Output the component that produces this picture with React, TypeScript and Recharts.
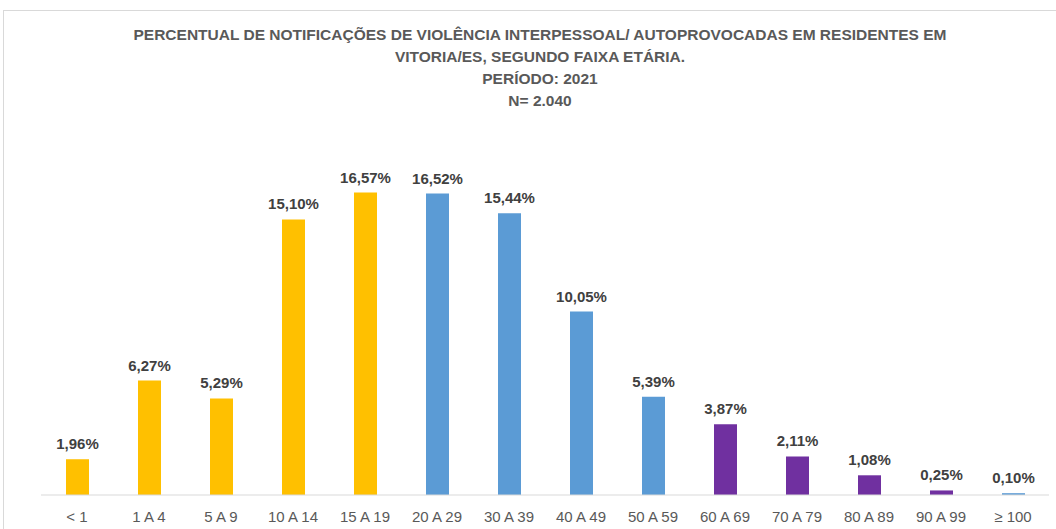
import React from "react";
import { BarChart, Bar, XAxis, YAxis, Cell, LabelList } from "recharts";

const categories = ["< 1", "1 A 4", "5 A 9", "10 A 14", "15 A 19", "20 A 29", "30 A 39", "40 A 49", "50 A 59", "60 A 69", "70 A 79", "80 A 89", "90 A 99", "≥ 100"];
const values = [1.96, 6.27, 5.29, 15.1, 16.57, 16.52, 15.44, 10.05, 5.39, 3.87, 2.11, 1.08, 0.25, 0.1];
const groups = ["young", "young", "young", "young", "young", "adult", "adult", "adult", "adult", "elder", "elder", "elder", "elder", "adult"];
const titleLines = [
  "PERCENTUAL DE NOTIFICAÇÕES DE VIOLÊNCIA INTERPESSOAL/ AUTOPROVOCADAS EM RESIDENTES EM",
  "VITORIA/ES, SEGUNDO FAIXA ETÁRIA.",
  "PERÍODO: 2021",
  "N= 2.040",
];

const groupColors: Record<string, string> = { young: "#FFC000", adult: "#5B9BD5", elder: "#7030A0" };

const data = categories.map((c, i) => ({ name: c, value: values[i], group: groups[i] }));

const fmt = (v: number) => v.toFixed(2).replace(".", ",") + "%";

export default function App() {
  return (
    <div style={{ position: "absolute", left: 0, top: 0, width: 1056, height: 529, overflow: "hidden", background: "#fff" }}>
      <div style={{ position: "absolute", left: 3, top: 10, width: 1100, height: 600, border: "1px solid #d9d9d9", boxSizing: "border-box" }} />
      <div style={{ position: "absolute", left: 0, top: 24, width: 1080, textAlign: "center", fontFamily: "'Liberation Sans', Arial, sans-serif", fontWeight: 700, fontSize: 15.5, color: "#595959", lineHeight: "22px" }}>
        {titleLines.map((t, i) => (
          <div key={i}>{t}</div>
        ))}
      </div>
      <div style={{ position: "absolute", left: 0, top: 0 }}>
        <BarChart width={1056} height={529} data={data} margin={{ top: 130, right: 7, bottom: 0, left: 41 }}>
          <XAxis
            dataKey="name"
            height={34}
            tickSize={0}
            tickMargin={16}
            axisLine={{ stroke: "#d9d9d9" }}
            tickLine={false}
            interval={0}
            tick={{ fill: "#595959", fontSize: 15, fontFamily: "'Liberation Sans', Arial, sans-serif" }}
          />
          <YAxis hide domain={[0, 20]} />
          <Bar dataKey="value" barSize={23} isAnimationActive={false}>
            {data.map((d, i) => (
              <Cell key={i} fill={groupColors[d.group]} />
            ))}
            <LabelList
              dataKey="value"
              position="top"
              offset={10}
              formatter={(v: number) => fmt(v)}
              style={{ fill: "#404040", fontSize: 15, fontWeight: 700, fontFamily: "'Liberation Sans', Arial, sans-serif" }}
            />
          </Bar>
        </BarChart>
      </div>
    </div>
  );
}
